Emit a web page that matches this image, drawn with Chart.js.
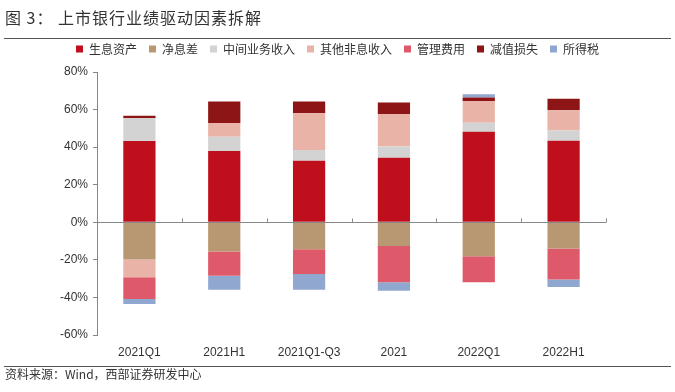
<!DOCTYPE html>
<html>
<head>
<meta charset="utf-8">
<script src="https://cdn.jsdelivr.net/npm/chart.js@4"></script>
<style>
  html, body { margin: 0; padding: 0; background: #fff; }
  #wrap { position: relative; width: 675px; height: 392px; overflow: hidden; }
  #title { position: absolute; left: 5px; top: 5px; font: 16px "Noto Sans CJK SC", sans-serif; color: #333; letter-spacing: 1px; }
  .rule { position: absolute; left: 4px; width: 667px; height: 0; border-top: 1.5px solid #555; }
  #source { position: absolute; left: 5px; top: 365px; font: 12px "Noto Sans CJK SC", sans-serif; color: #333; }
  canvas { position: absolute; left: 0; top: 0; }
</style>
</head>
<body>
<div id="wrap">
  <canvas id="chart" width="675" height="392"></canvas>
  <div id="title">图 3：&nbsp;上市银行业绩驱动因素拆解</div>
  <div class="rule" style="top:38px"></div>
  <div class="rule" style="top:366px"></div>
  <div id="source">资料来源：Wind，西部证券研发中心</div>
</div>
<script>
// periods and contribution of each driver, in %
const categories = ['2021Q1', '2021H1', '2021Q1-Q3', '2021', '2022Q1', '2022H1'];
const interestAssets = [43.3, 38.0, 32.7, 34.3, 48.2, 43.4];
const netInterestMargin = [-19.8, -15.6, -14.4, -12.6, -18.1, -14.0];
const feeIncome = [12.2, 7.5, 5.8, 6.1, 4.8, 5.5];
const otherNonInterest = [-9.4, 7.3, 19.6, 17.2, 11.6, 10.8];
const opex = [-11.7, -12.9, -13.1, -19.3, -13.8, -16.4];
const impairment = [1.2, 11.5, 6.2, 6.1, 1.8, 6.0];
const incomeTax = [-2.6, -7.4, -8.4, -4.5, 1.8, -4.1];
const yTicks = [-60, -40, -20, 0, 20, 40, 60, 80];

const fontFamily = '"Liberation Sans", "Noto Sans CJK SC", sans-serif';

// zero line with small ticks between categories
const zeroAxis = {
    id: 'zeroAxis',
    afterDatasetsDraw(chart) {
        const { ctx, chartArea, scales } = chart;
        const y0 = Math.round(scales.y.getPixelForValue(0)) + 0.5;
        ctx.save();
        ctx.strokeStyle = '#888';
        ctx.lineWidth = 1;
        ctx.beginPath();
        ctx.moveTo(chartArea.left, y0);
        ctx.lineTo(chartArea.right, y0);
        for (let i = 1; i <= categories.length; i++) {
            const x = i < categories.length
                ? (scales.x.getPixelForValue(i - 1) + scales.x.getPixelForValue(i)) / 2
                : chartArea.right;
            ctx.moveTo(Math.round(x) + 0.5, y0);
            ctx.lineTo(Math.round(x) + 0.5, y0 - 4);
        }
        ctx.stroke();
        ctx.restore();
    }
};

// a bit more room under the legend
const legendGap = {
    id: 'legendGap',
    afterInit(chart) {
        const legend = chart.legend;
        if (!legend) return;
        const fit = legend.fit;
        legend.fit = function () {
            fit.call(this);
            this.height += 7;
        };
    }
};

const ctx = document.getElementById('chart').getContext('2d');
new Chart(ctx, {
    type: 'bar',
    data: {
        labels: categories,
        datasets: [
            { label: '生息资产', data: interestAssets, backgroundColor: '#C00F1C' },
            { label: '净息差', data: netInterestMargin, backgroundColor: '#B89872' },
            { label: '中间业务收入', data: feeIncome, backgroundColor: '#D3D3D3' },
            { label: '其他非息收入', data: otherNonInterest, backgroundColor: '#EAB3A8' },
            { label: '管理费用', data: opex, backgroundColor: '#DE5A6A' },
            { label: '减值损失', data: impairment, backgroundColor: '#8E1515' },
            { label: '所得税', data: incomeTax, backgroundColor: '#90A8D0' }
        ]
    },
    options: {
        responsive: false,
        animation: false,
        layout: { padding: { top: 31, left: 0, right: 0, bottom: 27 } },
        datasets: { bar: { categoryPercentage: 1, barPercentage: 0.38 } },
        plugins: {
            legend: {
                position: 'top',
                labels: {
                    boxWidth: 7, boxHeight: 7, padding: 12,
                    color: '#333',
                    font: { family: '"Noto Sans CJK SC", sans-serif', size: 12 }
                }
            },
            tooltip: { enabled: false }
        },
        scales: {
            x: {
                stacked: true,
                grid: { display: false },
                border: { display: false },
                ticks: { color: '#333', font: { family: fontFamily, size: 12 }, padding: 2 },
                afterFit(scale) { scale.height = 30; }
            },
            y: {
                stacked: true,
                min: -60, max: 80,
                afterBuildTicks(scale) { scale.ticks = yTicks.map(v => ({ value: v })); },
                grid: { drawOnChartArea: false, tickLength: 4, color: '#888' },
                border: { color: '#888' },
                ticks: {
                    color: '#333', padding: 5,
                    font: { family: fontFamily, size: 12 },
                    callback: v => v + '%'
                },
                afterFit(scale) { scale.width = 97; }
            },
            // empty axis that only reserves the blank strip on the right
            spacer: {
                position: 'right',
                display: true,
                grid: { display: false },
                border: { display: false },
                ticks: { display: false },
                afterFit(scale) { scale.width = 69; }
            }
        }
    },
    plugins: [zeroAxis, legendGap]
});
</script>
</body>
</html>
